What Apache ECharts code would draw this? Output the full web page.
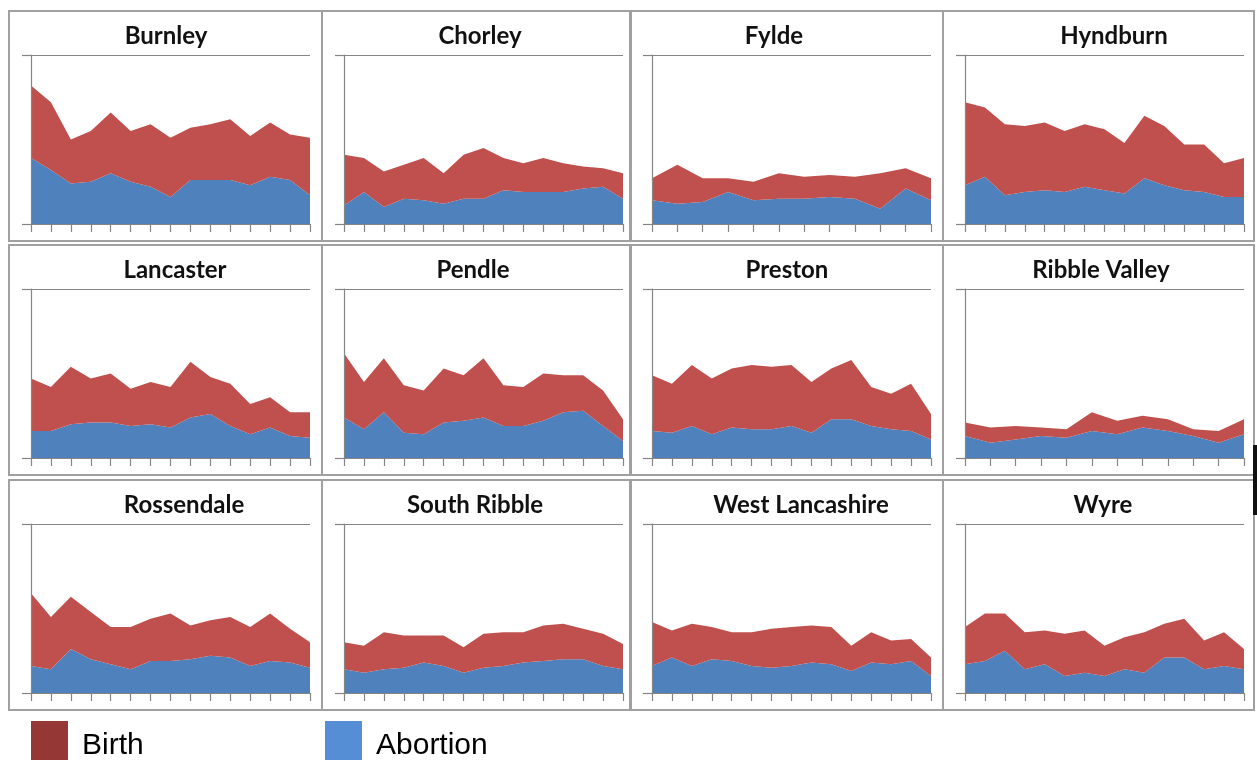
<!DOCTYPE html>
<html>
<head>
<meta charset="utf-8">
<title>Birth and abortion by district</title>
<script src="https://cdn.jsdelivr.net/npm/echarts@6/dist/echarts.min.js"></script>
<style>
    html, body { margin: 0; padding: 0; background: #ffffff; }
    #main { width: 1257px; height: 760px; }
</style>
</head>
<body>
<div id="main"></div>
<script>
// x categories (labels are not shown on the panels)
const years = ['1998', '1999', '2000', '2001', '2002', '2003', '2004', '2005',
    '2006', '2007', '2008', '2009', '2010', '2011', '2012']

const districts = ['Burnley', 'Chorley', 'Fylde', 'Hyndburn',
    'Lancaster', 'Pendle', 'Preston', 'Ribble Valley',
    'Rossendale', 'South Ribble', 'West Lancashire', 'Wyre']

// values, same (unknown) unit for every panel
const burnleyAbortion = [39, 32, 24, 25, 30, 25, 22, 16, 26, 26, 26, 23, 28, 26, 17]
const burnleyBirth = [43, 40, 26, 30, 36, 30, 37, 35, 31, 33, 36, 29, 32, 27, 34]

const chorleyAbortion = [11, 19, 10, 15, 14, 12, 15, 15, 20, 19, 19, 19, 21, 22, 15]
const chorleyBirth = [30, 20, 21, 20, 25, 18, 26, 30, 19, 17, 20, 17, 13, 11, 15]

const fyldeAbortion = [14, 12, 13, 19, 14, 15, 15, 16, 15, 9, 21, 14]
const fyldeBirth = [13, 23, 14, 8, 11, 15, 13, 13, 13, 21, 12, 13]

const hyndburnAbortion = [23, 28, 17, 19, 20, 19, 22, 20, 18, 27, 23, 20, 19, 16, 16]
const hyndburnBirth = [49, 41, 42, 39, 40, 36, 37, 36, 30, 37, 35, 27, 28, 20, 23]

const lancasterAbortion = [16, 16, 20, 21, 21, 19, 20, 18, 24, 26, 19, 14, 18, 13, 12]
const lancasterBirth = [31, 26, 34, 26, 29, 22, 25, 24, 33, 22, 25, 18, 18, 14, 15]

const pendleAbortion = [24, 17, 27, 15, 14, 21, 22, 24, 19, 19, 22, 27, 28, 19, 10]
const pendleBirth = [38, 28, 32, 28, 26, 32, 27, 35, 24, 23, 28, 22, 21, 21, 13]

const prestonAbortion = [16, 15, 19, 14, 18, 17, 17, 19, 15, 23, 23, 19, 17, 16, 11]
const prestonBirth = [33, 29, 36, 33, 35, 38, 37, 36, 30, 30, 35, 23, 21, 28, 15]

const ribbleValleyAbortion = [13, 9, 11, 13, 12, 16, 14, 18, 16, 13, 9, 14]
const ribbleValleyBirth = [8, 9, 8, 5, 5, 11, 8, 7, 7, 4, 7, 9]

const rossendaleAbortion = [16, 14, 26, 20, 17, 14, 19, 19, 20, 22, 21, 16, 19, 18, 15]
const rossendaleBirth = [43, 31, 31, 28, 22, 25, 25, 28, 20, 21, 24, 23, 28, 20, 15]

const southRibbleAbortion = [14, 12, 14, 15, 18, 16, 12, 15, 16, 18, 19, 20, 20, 16, 14]
const southRibbleBirth = [16, 16, 22, 19, 16, 18, 15, 20, 20, 18, 21, 21, 18, 19, 15]

const westLancashireAbortion = [16, 21, 16, 20, 19, 16, 15, 16, 18, 17, 13, 18, 17, 19, 10]
const westLancashireBirth = [26, 16, 25, 19, 17, 20, 23, 23, 22, 22, 15, 18, 14, 13, 11]

const wyreAbortion = [17, 19, 25, 14, 17, 10, 12, 10, 14, 12, 21, 21, 14, 16, 14]
const wyreBirth = [22, 28, 22, 22, 20, 25, 25, 18, 19, 24, 20, 23, 17, 20, 12]

const abortion = [burnleyAbortion, chorleyAbortion, fyldeAbortion, hyndburnAbortion,
    lancasterAbortion, pendleAbortion, prestonAbortion, ribbleValleyAbortion,
    rossendaleAbortion, southRibbleAbortion, westLancashireAbortion, wyreAbortion]
const birth = [burnleyBirth, chorleyBirth, fyldeBirth, hyndburnBirth,
    lancasterBirth, pendleBirth, prestonBirth, ribbleValleyBirth,
    rossendaleBirth, southRibbleBirth, westLancashireBirth, wyreBirth]

// panel layout (pixels)
const colLeft = [9, 322, 630, 943]
const colWidth = [313, 309, 313, 311]
const rowTop = [11, 245, 480]
const boxHeight = 230
const titleX = [166, 480, 774, 1114, 175, 473, 787, 1101, 184, 475, 801, 1103]

const axisGrey = '#858585'

const grid = []
const xAxis = []
const yAxis = []
const series = []
const title = []
const graphic = []

districts.forEach((name, i) => {
    const c = i % 4
    const r = Math.floor(i / 4)
    const bx = colLeft[c]
    const by = rowTop[r]

    graphic.push({
        type: 'rect',
        shape: { x: bx, y: by, width: colWidth[c], height: boxHeight },
        style: { fill: 'transparent', stroke: '#a0a0a0', lineWidth: 2 },
        silent: true
    })

    title.push({
        text: name,
        left: titleX[i],
        top: by + 13,
        textAlign: 'center',
        padding: 0,
        textStyle: {
            fontFamily: 'Lato',
            fontWeight: 'bold',
            fontSize: 24,
            color: '#111111'
        }
    })

    grid.push({ left: bx + 22, top: by + 44, width: 279, height: 169 })

    xAxis.push({
        gridIndex: i,
        type: 'category',
        boundaryGap: false,
        data: years.slice(0, abortion[i].length),
        z: 3,
        axisLine: { lineStyle: { color: axisGrey, width: 1.2 } },
        axisTick: { show: true, interval: 0, length: 8, lineStyle: { color: axisGrey, width: 1.2 } },
        axisLabel: { show: false },
        splitLine: { show: false }
    })

    yAxis.push({
        gridIndex: i,
        type: 'value',
        min: 0,
        max: 100,
        interval: 100,
        z: 3,
        axisLine: { show: true, lineStyle: { color: axisGrey, width: 1.2 } },
        axisTick: { show: true, length: 9, lineStyle: { color: axisGrey, width: 1.2 } },
        axisLabel: { show: false },
        splitLine: { show: true, lineStyle: { color: axisGrey, width: 1.2 } }
    })

    series.push({
        name: 'Abortion',
        type: 'line',
        xAxisIndex: i,
        yAxisIndex: i,
        stack: 'total' + i,
        symbol: 'none',
        silent: true,
        lineStyle: { width: 0 },
        itemStyle: { color: '#4F81BD' },
        areaStyle: { color: '#4F81BD', opacity: 1 },
        data: abortion[i]
    })
    series.push({
        name: 'Birth',
        type: 'line',
        xAxisIndex: i,
        yAxisIndex: i,
        stack: 'total' + i,
        symbol: 'none',
        silent: true,
        lineStyle: { width: 0 },
        itemStyle: { color: '#C0504D' },
        areaStyle: { color: '#C0504D', opacity: 1 },
        data: birth[i]
    })
})

// small dark mark on the right edge of the sheet
graphic.push({
    type: 'rect',
    shape: { x: 1253, y: 445, width: 4, height: 70 },
    style: { fill: '#111111' },
    silent: true
})

// legend text is pushed a few pixels below the icon centre, as in the picture
const legendText = {
    rich: {
        t: {
            fontFamily: 'Liberation Sans',
            fontSize: 30,
            color: '#000000',
            padding: [11, 0, 0, 9]
        }
    }
}

const option = {
    animation: false,
    backgroundColor: '#ffffff',
    title: title,
    grid: grid,
    xAxis: xAxis,
    yAxis: yAxis,
    legend: [{
        left: 31,
        top: 721,
        padding: 0,
        itemWidth: 37,
        itemHeight: 39,
        selectedMode: false,
        icon: 'rect',
        formatter: '{t|{name}}',
        data: [{ name: 'Birth', itemStyle: { color: '#953735' } }],
        textStyle: legendText
    }, {
        left: 325,
        top: 721,
        padding: 0,
        itemWidth: 37,
        itemHeight: 39,
        selectedMode: false,
        icon: 'rect',
        formatter: '{t|{name}}',
        data: [{ name: 'Abortion', itemStyle: { color: '#558ED5' } }],
        textStyle: legendText
    }],
    graphic: graphic,
    series: series
}

const myChart = echarts.init(document.getElementById('main'))
myChart.setOption(option)
</script>
</body>
</html>
